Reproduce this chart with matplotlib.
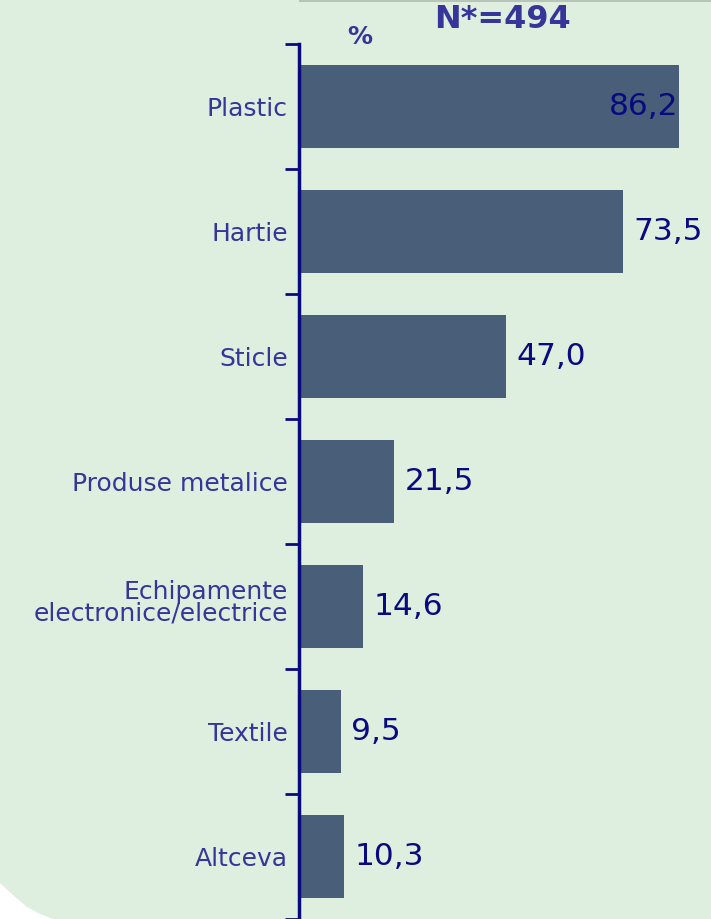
import matplotlib
matplotlib.use("Agg")
import matplotlib.pyplot as plt
import matplotlib.transforms as mtransforms
import numpy as np
from matplotlib.patches import Polygon

# data
categories = ["Plastic", "Hartie", "Sticle", "Produse metalice",
              "Echipamente\nelectronice/electrice", "Textile", "Altceva"]
values = [86.2, 73.5, 47.0, 21.5, 14.6, 9.5, 10.3]
value_labels = ["86,2", "73,5", "47,0", "21,5", "14,6", "9,5", "10,3"]

bg = "#deeedf"
bar_color = "#495e78"
label_color = "#35359a"
value_color = "#0a0a80"

W, H = 711, 919
fig = plt.figure(figsize=(W / 100, H / 100), dpi=100)
fig.patch.set_facecolor(bg)

# white rounded corner at bottom left (pixel points -> figure fraction)
corner = [(0, 0), (0, 36), (13, 24), (27, 12), (40, 5), (53, 0)]
fig.patches.append(Polygon([(x / W, y / H) for x, y in corner], closed=True,
                           transform=fig.transFigure,
                           facecolor="white", edgecolor="none"))

ax = fig.add_axes([299 / W, 0, 412 / W, 875 / H])
ax.set_facecolor("none")

y = np.arange(len(categories))
ax.barh(y, values, height=0.67, color=bar_color)
ax.set_ylim(len(categories) - 0.5, -0.5)
ax.set_xlim(0, 93.5)

for i, (v, s) in enumerate(zip(values, value_labels)):
    if i == 0:
        ax.text(v - 0.2, i, s, ha="right", va="center", fontsize=22.5, color=value_color)
    else:
        ax.text(v + 2.4, i, s, ha="left", va="center", fontsize=22.5, color=value_color)

ax.set_yticks(y)
ax.set_yticklabels(categories, fontsize=18, color=label_color, linespacing=0.88)
ax.set_yticks(np.arange(len(categories) + 1) - 0.5, minor=True)
ax.tick_params(axis="y", which="major", length=0, pad=8)
ax.tick_params(axis="y", which="minor", length=10, width=2, color=value_color)
ax.set_xticks([])

# two-line label sits a bit higher in the original
lab = ax.get_yticklabels()[4]
lab.set_transform(lab.get_transform() +
                  mtransforms.ScaledTranslation(0, 5 / 100, fig.dpi_scale_trans))

for side in ["top", "right", "bottom"]:
    ax.spines[side].set_visible(False)
ax.spines["left"].set_color(value_color)
ax.spines["left"].set_linewidth(2.5)

# top rule, headers
fig.add_artist(plt.Line2D([300 / W, 1], [1 - 1 / H, 1 - 1 / H],
                          color="#b8c4b8", lw=1.5, transform=fig.transFigure))
fig.text(503 / W, 1 - 20 / H, "N*=494", ha="center", va="center",
         fontsize=23, fontweight="bold", color=label_color)
fig.text(360 / W, 1 - 37 / H, "%", ha="center", va="center",
         fontsize=18, fontweight="bold", color=label_color)

fig.savefig("out.png", dpi=100, facecolor=bg)
